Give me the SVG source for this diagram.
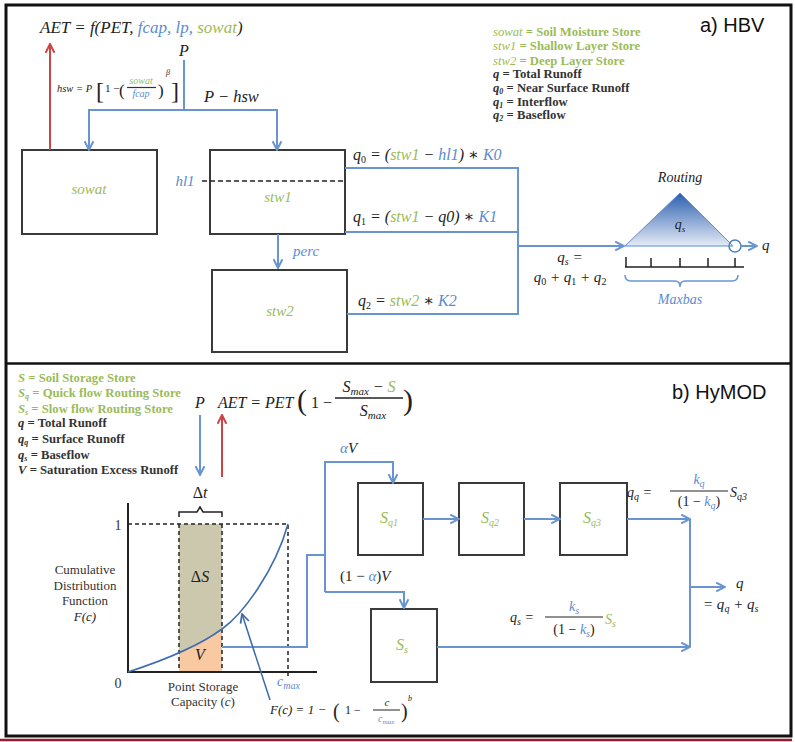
<svg xmlns="http://www.w3.org/2000/svg" width="795" height="742" viewBox="0 0 795 742" font-size="15">
<defs>
<style>
.m{font-family:"Liberation Serif","DejaVu Serif",serif;font-style:italic;fill:#222}
.u{font-style:normal}
.g{fill:#9bbb59}
.b{fill:#5b8bd0}
.leg{font-family:"Liberation Serif",serif;font-weight:bold;fill:#333}
.lab{font-family:"Liberation Serif",serif;fill:#333}
.ttl{font-family:"Liberation Sans",Arial,sans-serif;fill:#111}
.box{fill:#fff;stroke:#3a3a3a;stroke-width:2}
.bl{fill:none;stroke:#6895d2;stroke-width:2}
.rd{fill:none;stroke:#cc4444;stroke-width:2}
.dash{fill:none;stroke:#222;stroke-width:1.5;stroke-dasharray:4 3}
.ax{fill:none;stroke:#222;stroke-width:2}
.fl{stroke:#333;stroke-width:1.2}
.mid{text-anchor:middle}
</style>
<marker id="ab" viewBox="0 0 10 10" refX="9" refY="5" markerWidth="11" markerHeight="11" markerUnits="userSpaceOnUse" orient="auto"><path d="M1,1 L9,5 L1,9" fill="none" stroke="#6895d2" stroke-width="1.8"/></marker>
<marker id="ar" viewBox="0 0 10 10" refX="9" refY="5" markerWidth="11" markerHeight="11" markerUnits="userSpaceOnUse" orient="auto"><path d="M1,1 L9,5 L1,9" fill="none" stroke="#cc4444" stroke-width="1.8"/></marker>
<marker id="ad" viewBox="0 0 10 10" refX="9" refY="5" markerWidth="11" markerHeight="11" markerUnits="userSpaceOnUse" orient="auto"><path d="M1,1 L9,5 L1,9" fill="none" stroke="#3b6aa8" stroke-width="1.6"/></marker>
<linearGradient id="tri" x1="0" y1="0" x2="0" y2="1"><stop offset="0" stop-color="#2c5fb0"/><stop offset="1" stop-color="#e4ebf6"/></linearGradient>
</defs>

<!-- frame -->
<rect x="6" y="5" width="785" height="731" fill="#fff" stroke="#111" stroke-width="3"/>
<line x1="6" y1="363.5" x2="791" y2="363.5" stroke="#111" stroke-width="2.5"/>
<line x1="0" y1="740" x2="792" y2="740" stroke="#9b1b30" stroke-width="2.5"/>

<!-- ===== HBV ===== -->
<g id="hbv-title"><text class="ttl" x="700" y="32" font-size="20">a) HBV</text></g>

<g id="hbv-legend" class="leg" font-size="12.7">
<text x="493" y="36" style="fill:#9bbb59"><tspan font-style="italic" font-weight="normal">sowat</tspan> = Soil Moisture Store</text>
<text x="493" y="50" style="fill:#9bbb59"><tspan font-style="italic" font-weight="normal">stw1</tspan> = Shallow Layer Store</text>
<text x="493" y="65" style="fill:#9bbb59"><tspan font-style="italic" font-weight="normal">stw2</tspan> = Deep Layer Store</text>
<text x="493" y="78"><tspan font-style="italic">q</tspan> = Total Runoff</text>
<text x="493" y="92"><tspan font-style="italic">q</tspan><tspan font-style="italic" font-size="8" dy="2">0</tspan><tspan dy="-2"> =  Near Surface Runoff</tspan></text>
<text x="493" y="106"><tspan font-style="italic">q</tspan><tspan font-style="italic" font-size="8" dy="2">1</tspan><tspan dy="-2"> = Interflow</tspan></text>
<text x="493" y="119"><tspan font-style="italic">q</tspan><tspan font-style="italic" font-size="8" dy="2">2</tspan><tspan dy="-2"> = Baseflow</tspan></text>
</g>

<g id="hbv-aet">
<text class="m" x="40" y="33" font-size="17">AET = f(PET, <tspan class="b">fcap, lp, </tspan><tspan class="g">sowat</tspan>)</text>
<text class="m mid" x="184" y="56" font-size="16">P</text>
<text class="m" x="204" y="102" font-size="16.5">P  −  hsw</text>
</g>

<g id="hbv-hsw">
<text class="m" x="57" y="92" font-size="10.5">hsw = P</text>
<text class="m u" x="96" y="99" font-size="24">[</text>
<text class="m u" x="105" y="92" font-size="11">1 −</text>
<text class="m u" x="119" y="96" font-size="17">(</text>
<text class="m g mid" x="141" y="84" font-size="10">sowat</text>
<line x1="127" y1="87.5" x2="156" y2="87.5" class="fl" stroke-width="0.8"/>
<text class="m b mid" x="141" y="97" font-size="10">fcap</text>
<text class="m u" x="158" y="96" font-size="17">)</text>
<text class="m" x="166" y="75" font-size="8">β</text>
<text class="m u" x="171" y="99" font-size="24">]</text>
</g>

<g id="sowat">
<rect class="box" x="22" y="150" width="135" height="84"/>
<text class="m g mid" x="89" y="194">sowat</text>
</g>

<g id="stw1">
<rect class="box" x="210" y="150" width="135" height="84"/>
<line x1="202" y1="181" x2="343" y2="181" stroke="#222" stroke-width="1.5" stroke-dasharray="5 3"/>
<text class="m b mid" x="185" y="186">hl1</text>
<text class="m g mid" x="278" y="202">stw1</text>
</g>

<g id="stw2">
<rect class="box" x="212" y="270" width="135" height="82"/>
<text class="m g mid" x="280" y="316">stw2</text>
</g>

<g id="routing">
<text class="m mid" x="680" y="182" font-size="14">Routing</text>
<polygon points="680,193 625,246 733,246" fill="url(#tri)" stroke="#5b8bd0" stroke-width="1"/>
<text class="m mid" x="680" y="229" font-size="14">q<tspan font-size="9" dy="3">s</tspan></text>
<circle cx="735" cy="246" r="6" fill="none" stroke="#4f81bd" stroke-width="1.5"/>
<path d="M625,267 H744 M626,267 V257 M651,267 V258 M680,267 V258 M708,267 V258 M735,267 V258" fill="none" stroke="#222" stroke-width="1.5"/>
<path d="M625,275 Q625,281 631,281 H675 Q680,281 680,287 Q680,281 685,281 H732 Q738,281 738,275" fill="none" stroke="#6895d2" stroke-width="1.5"/>
<text class="m b mid" x="680" y="304" font-size="14">Maxbas</text>
<text class="m" x="762" y="250">q</text>
</g>

<g id="hbv-labels">
<text class="m" x="293" y="256" ><tspan class="b">perc</tspan></text>
<text class="m" x="353" y="160" font-size="16">q<tspan class="u" font-size="10" dy="3">0</tspan><tspan dy="-3"> = (</tspan><tspan class="g">stw1</tspan> − <tspan class="b">hl1</tspan>) ∗ <tspan class="b">K0</tspan></text>
<text class="m" x="353" y="222" font-size="16">q<tspan class="u" font-size="10" dy="3">1</tspan><tspan dy="-3"> = (</tspan><tspan class="g">stw1</tspan> − q0) ∗ <tspan class="b">K1</tspan></text>
<text class="m" x="358" y="306" font-size="16">q<tspan class="u" font-size="10" dy="3">2</tspan><tspan dy="-3"> = </tspan><tspan class="g">stw2</tspan> ∗ <tspan class="b">K2</tspan></text>
<text class="m mid" x="570" y="262">q<tspan font-size="10" dy="3">s</tspan><tspan dy="-3"> =</tspan></text>
<text class="m mid" x="570" y="282">q<tspan class="u" font-size="10" dy="3">0</tspan><tspan dy="-3"> + q</tspan><tspan class="u" font-size="10" dy="3">1</tspan><tspan dy="-3"> + q</tspan><tspan class="u" font-size="10" dy="3">2</tspan></text>
</g>

<!-- ===== HyMOD ===== -->
<g id="hymod-title"><text class="ttl" x="672" y="399" font-size="20">b) HyMOD</text></g>

<g id="hymod-legend" class="leg" font-size="12.7">
<text x="18" y="382" style="fill:#9bbb59"><tspan font-style="italic">S</tspan> = Soil Storage Store</text>
<text x="18" y="397" style="fill:#9bbb59"><tspan font-style="italic">S</tspan><tspan font-style="italic" font-size="8" dy="2">q</tspan><tspan dy="-2"> = Quick flow Routing Store</tspan></text>
<text x="18" y="413" style="fill:#9bbb59"><tspan font-style="italic">S</tspan><tspan font-style="italic" font-size="8" dy="2">s</tspan><tspan dy="-2"> = Slow flow Routing Store</tspan></text>
<text x="18" y="427"><tspan font-style="italic">q</tspan> = Total Runoff</text>
<text x="18" y="443"><tspan font-style="italic">q</tspan><tspan font-style="italic" font-size="8" dy="2">q</tspan><tspan dy="-2"> =  Surface Runoff</tspan></text>
<text x="18" y="459"><tspan font-style="italic">q</tspan><tspan font-style="italic" font-size="8" dy="2">s</tspan><tspan dy="-2"> = Baseflow</tspan></text>
<text x="18" y="474"><tspan font-style="italic">V</tspan> = Saturation Excess Runoff</text>
</g>

<g id="hymod-aet">
<text class="m mid" x="200" y="408" font-size="16">P</text>
<text class="m" x="218" y="408" font-size="16">AET = PET</text>
<text class="m u" x="297" y="410" font-size="30">(</text>
<text class="m u" x="311" y="408" font-size="16">1 −</text>
<text class="m mid" x="369" y="392" font-size="16">S<tspan font-size="11" dy="3">max</tspan><tspan dy="-3"> − </tspan><tspan class="g">S</tspan></text>
<line x1="335" y1="398" x2="403" y2="398" stroke="#222" stroke-width="1.3"/>
<text class="m mid" x="373" y="416" font-size="16">S<tspan font-size="11" dy="3">max</tspan></text>
<text class="m u" x="403" y="410" font-size="30">)</text>
<text class="m mid" x="200" y="498" font-size="16"><tspan class="u">Δ</tspan>t</text>
</g>

<g id="cdf">
<polygon points="179,524 222,524 222,629 179,653" fill="#ccc8ae"/>
<polygon points="179,653 222,629 222,672 179,672" fill="#f9c9a1"/>
<path class="dash" d="M128,524 H288 V678 M179,524 V672 M222,524 V672"/>
<path class="ax" d="M128,503 V672 H317"/>
<path d="M128,672 C165,660 200,645 222,629 S275,570 288,524" fill="none" stroke="#3d6cb0" stroke-width="1.6"/>
<path d="M179,517 V512 H197 L200,507 L203,512 H222 V517" fill="none" stroke="#222" stroke-width="1.5"/>
<text class="lab mid" x="118" y="530" font-size="14">1</text>
<text class="lab mid" x="118" y="688" font-size="14">0</text>
<text class="m mid" x="200" y="582" font-size="16"><tspan class="u">Δ</tspan>S</text>
<text class="m mid" x="200" y="660" font-size="16">V</text>
<text class="lab mid" x="85" y="574" font-size="13">Cumulative</text>
<text class="lab mid" x="85" y="590" font-size="13">Distribution</text>
<text class="lab mid" x="85" y="605" font-size="13">Function</text>
<text class="m mid" x="85" y="621" font-size="13">F(c)</text>
<text class="lab mid" x="203" y="691" font-size="13">Point Storage</text>
<text class="lab mid" x="203" y="706" font-size="13">Capacity (<tspan font-style="italic">c</tspan>)</text>
<text class="m b" x="277" y="686" font-size="14">c<tspan font-size="10" dy="3">max</tspan></text>
<text class="m" x="270" y="714" font-size="13">F(c) = 1 −</text>
<text class="m u" x="333" y="718" font-size="20">(</text>
<text class="m u" x="345" y="714" font-size="12">1 −</text>
<text class="m mid" x="387" y="706" font-size="11">c</text>
<line x1="373" y1="710" x2="400" y2="710" stroke="#222" stroke-width="1"/>
<text class="m b mid" x="386" y="722" font-size="10">c<tspan font-size="7" dy="2">max</tspan></text>
<text class="m u" x="401" y="718" font-size="20">)</text>
<text class="m" x="408" y="701" font-size="8">b</text>
</g>

<g id="sq1"><rect class="box" x="358" y="483" width="65" height="72"/><text class="m g mid" x="389" y="523" font-size="16">S<tspan font-size="10" dy="3">q1</tspan></text></g>
<g id="sq2"><rect class="box" x="459" y="483" width="65" height="72"/><text class="m g mid" x="490" y="523" font-size="16">S<tspan font-size="10" dy="3">q2</tspan></text></g>
<g id="sq3"><rect class="box" x="560" y="483" width="67" height="72"/><text class="m g mid" x="592" y="523" font-size="16">S<tspan font-size="10" dy="3">q3</tspan></text></g>
<g id="ss"><rect class="box" x="371" y="609" width="66" height="73"/><text class="m g mid" x="402" y="650" font-size="16">S<tspan font-size="10" dy="3">s</tspan></text></g>

<g id="hymod-labels">
<text class="m" x="340" y="453"><tspan class="b">α</tspan>V</text>
<text class="m" x="340" y="581"><tspan class="u">(1 − </tspan><tspan class="b">α</tspan><tspan class="u">)</tspan>V</text>
<text class="m" x="627" y="497" font-size="14">q<tspan font-size="10" dy="3">q</tspan><tspan dy="-3"> =</tspan></text>
<text class="m b mid" x="699" y="484" font-size="14">k<tspan font-size="10" dy="3">q</tspan></text>
<line x1="670" y1="491" x2="728" y2="491" stroke="#222" stroke-width="1.2"/>
<text class="m mid" x="699" y="506" font-size="14"><tspan class="u">(1 − </tspan><tspan class="b">k</tspan><tspan class="b" font-size="10" dy="3">q</tspan><tspan class="u" dy="-3">)</tspan></text>
<text class="m" x="730" y="497" font-size="14">S<tspan font-size="10" dy="3">q3</tspan></text>
<text class="m" x="510" y="622" font-size="14">q<tspan font-size="10" dy="3">s</tspan><tspan dy="-3"> =</tspan></text>
<text class="m b mid" x="574" y="611" font-size="14">k<tspan font-size="10" dy="3">s</tspan></text>
<line x1="545" y1="617" x2="603" y2="617" stroke="#222" stroke-width="1.2"/>
<text class="m mid" x="574" y="634" font-size="14"><tspan class="u">(1 − </tspan><tspan class="b">k</tspan><tspan class="b" font-size="10" dy="3">s</tspan><tspan class="u" dy="-3">)</tspan></text>
<text class="m g" x="605" y="624" font-size="14">S<tspan font-size="10" dy="3">s</tspan></text>
<text class="m" x="736" y="588">q</text>
<text class="m" x="703" y="609">= q<tspan font-size="10" dy="3">q</tspan><tspan dy="-3"> + q</tspan><tspan font-size="10" dy="3">s</tspan></text>
</g>

<!-- ===== connectors ===== -->
<g id="connectors">
<line class="rd" x1="50" y1="150" x2="50" y2="44" marker-end="url(#ar)"/>
<path class="bl" d="M184,60 V110 H89 V150" marker-end="url(#ab)"/>
<path class="bl" d="M184,110 H277 V150" marker-end="url(#ab)"/>
<path class="bl" d="M278,234 V268" marker-end="url(#ab)"/>
<path class="bl" d="M345,168 H518 V314 H347"/>
<path class="bl" d="M345,232 H518"/>
<path class="bl" d="M518,246 H624" marker-end="url(#ab)"/>
<path class="bl" d="M741,246 H757" marker-end="url(#ab)"/>

<path class="bl" d="M200,415 V475" marker-end="url(#ab)"/>
<line class="rd" x1="222" y1="477" x2="222" y2="415" marker-end="url(#ar)"/>
<path class="bl" d="M222,647 H307 V555 H325"/>
<path class="bl" d="M325,592 V462 H393 V483" marker-end="url(#ab)"/>
<path class="bl" d="M325,592 H404 V608" marker-end="url(#ab)"/>
<path class="bl" d="M423,519 H459" marker-end="url(#ab)"/>
<path class="bl" d="M524,519 H560" marker-end="url(#ab)"/>
<path class="bl" d="M627,519 H690" marker-end="url(#ab)"/>
<path class="bl" d="M437,647 H690" marker-end="url(#ab)"/>
<path class="bl" d="M690,519 V647"/>
<path class="bl" d="M690,587 H725" marker-end="url(#ab)"/>
<path d="M270,700 L242,614" fill="none" stroke="#3b6aa8" stroke-width="1.5" marker-end="url(#ad)"/>
</g>
</svg>
